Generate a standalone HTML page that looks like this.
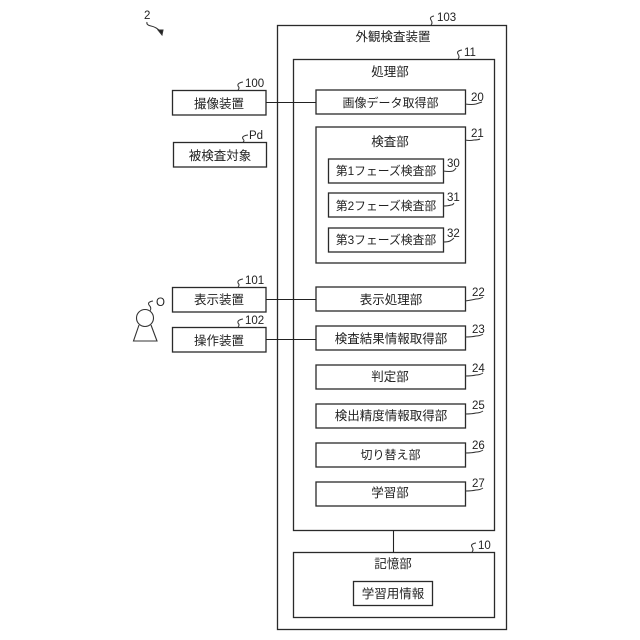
<!DOCTYPE html>
<html>
<head>
<meta charset="utf-8">
<style>
html,body{margin:0;padding:0;background:#fff;width:640px;height:640px;overflow:hidden}
svg{display:block}
text{font-family:"Liberation Sans","Noto Sans CJK JP",sans-serif;fill:#222;font-size:12.5px;text-anchor:middle}
.n{font-size:11.5px;text-anchor:start}
rect{fill:#fff;stroke:#2a2a2a;stroke-width:1.3}
path,line{fill:none;stroke:#333;stroke-width:1}
line{stroke:#222;stroke-width:1.1}
</style>
</head>
<body>
<svg width="640" height="640" viewBox="0 0 640 640" xmlns="http://www.w3.org/2000/svg">
<rect x="277.5" y="25.5" width="229" height="604"/>
<rect x="293.5" y="59.5" width="201" height="471"/>
<rect x="293.5" y="552.5" width="201" height="65"/>
<rect x="353.5" y="581.5" width="79" height="24"/>
<rect x="316" y="90" width="149.5" height="24"/>
<rect x="316" y="127" width="149.5" height="136"/>
<rect x="328.5" y="159" width="115" height="24"/>
<rect x="328.5" y="193" width="115" height="24"/>
<rect x="328.5" y="228" width="115" height="24"/>
<rect x="316" y="287" width="149.5" height="24"/>
<rect x="316" y="326" width="149.5" height="24"/>
<rect x="316" y="365" width="149.5" height="24"/>
<rect x="316" y="404" width="149.5" height="24"/>
<rect x="316" y="443" width="149.5" height="24"/>
<rect x="316" y="482" width="149.5" height="24"/>
<rect x="172.5" y="90.5" width="93.5" height="24.5"/>
<rect x="173.5" y="142.5" width="93" height="24.5"/>
<rect x="172.5" y="287.5" width="93.5" height="24.5"/>
<rect x="172.5" y="327.5" width="93.5" height="24.5"/>

<line x1="266" y1="102.5" x2="316" y2="102.5"/>
<line x1="266" y1="299.5" x2="316" y2="299.5"/>
<line x1="266" y1="339.5" x2="316" y2="339.5"/>
<line x1="393.5" y1="530.5" x2="393.5" y2="552.5"/>

<text x="393" y="41">外観検査装置</text>
<text x="390" y="76">処理部</text>
<text x="390.5" y="107" style="font-size:12px">画像データ取得部</text>
<text x="390" y="146">検査部</text>
<text x="386" y="175" style="font-size:11.8px">第1フェーズ検査部</text>
<text x="386" y="210" style="font-size:11.8px">第2フェーズ検査部</text>
<text x="386" y="244" style="font-size:11.8px">第3フェーズ検査部</text>
<text x="391" y="304">表示処理部</text>
<text x="391" y="343">検査結果情報取得部</text>
<text x="390" y="381">判定部</text>
<text x="391" y="420">検出精度情報取得部</text>
<text x="390.5" y="459" style="font-size:12px">切り替え部</text>
<text x="390" y="497">学習部</text>
<text x="393" y="568">記憶部</text>
<text x="393" y="598">学習用情報</text>
<text x="219" y="108">撮像装置</text>
<text x="220" y="160">被検査対象</text>
<text x="219" y="304">表示装置</text>
<text x="219" y="345">操作装置</text>

<text class="n" x="144" y="19">2</text>
<text class="n" x="437" y="21">103</text>
<text class="n" x="464" y="56">11</text>
<text class="n" x="471" y="101">20</text>
<text class="n" x="471" y="137">21</text>
<text class="n" x="447" y="167">30</text>
<text class="n" x="447" y="201">31</text>
<text class="n" x="447" y="237">32</text>
<text class="n" x="472" y="296">22</text>
<text class="n" x="472" y="333">23</text>
<text class="n" x="472" y="372">24</text>
<text class="n" x="472" y="409">25</text>
<text class="n" x="472" y="449">26</text>
<text class="n" x="472" y="487">27</text>
<text class="n" x="478" y="549">10</text>
<text class="n" x="245" y="87">100</text>
<text class="n" x="249" y="139">Pd</text>
<text class="n" x="245" y="284">101</text>
<text class="n" x="245" y="324">102</text>
<text class="n" x="156" y="306">O</text>

<path d="M147 22 Q146 25 151 26 Q156 27 160 31"/>
<path d="M158 30 L163 30 L162 35 Z" style="fill:#222"/>
<path d="M243 82 Q237 83 238 86 Q240 88 238 90"/>
<path d="M248 135 Q241 136 243 139 Q245 141 243 142"/>
<path d="M243 279 Q237 280 238 283 Q240 285 238 287"/>
<path d="M243 319 Q237 320 238 323 Q240 325 238 327"/>
<path d="M434 16 Q429 17 431 20 Q433 23 431 25"/>
<path d="M462 50 Q456 51 458 54 Q460 57 458 59"/>
<path d="M476 543 Q470 544 472 547 Q474 550 472 552"/>
<path d="M465 104 Q472 105 476 104 Q479 103 482 102"/>
<path d="M465 140 Q470 141 474 140 Q478 140 480 139"/>
<path d="M443 171 Q450 172 453 171 Q455 170 456 168"/>
<path d="M443 206 Q448 206 451 205 Q453 205 454 203"/>
<path d="M443 242 Q448 242 450 241 Q452 240 454 238"/>
<path d="M465 301 Q472 300 476 299 Q480 299 483 297"/>
<path d="M465 337 Q472 337 476 336 Q480 336 483 334"/>
<path d="M465 376 Q472 376 476 375 Q480 375 483 373"/>
<path d="M465 414 Q472 414 476 413 Q480 413 483 411"/>
<path d="M465 453 Q472 453 476 452 Q480 452 483 450"/>
<path d="M465 491 Q472 491 476 490 Q480 490 483 488"/>

<circle cx="145" cy="318" r="8.5" style="fill:#fff;stroke:#333;stroke-width:1.1"/>
<path d="M139 325 L133.5 341 L157 341 L151 325" style="stroke-width:1.1"/>
<path d="M153 301 Q147 302 149 305 Q152 308 150 311"/>
</svg>
</body>
</html>
